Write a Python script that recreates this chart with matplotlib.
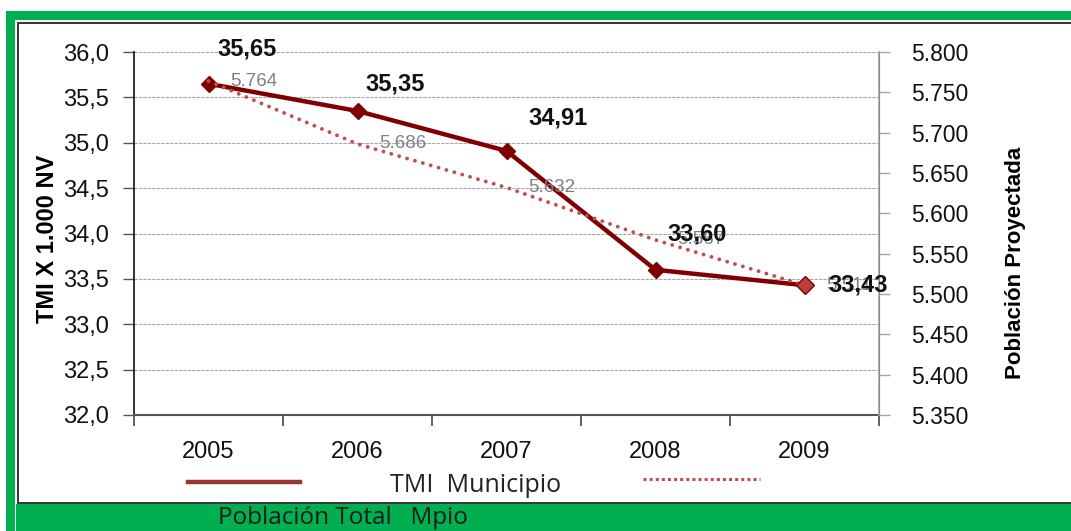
import matplotlib
matplotlib.use("Agg")
import matplotlib.pyplot as plt
from matplotlib.patches import Rectangle
from matplotlib.lines import Line2D

plt.rcParams['font.family'] = ['Liberation Sans', 'DejaVu Sans']

# data
years = ['2005', '2006', '2007', '2008', '2009']
tmi = [35.65, 35.35, 34.91, 33.60, 33.43]
poblacion = [5764, 5686, 5632, 5567, 5511]
tmi_labels = ['35,65', '35,35', '34,91', '33,60', '33,43']
pob_labels = ['5.764', '5.686', '5.632', '5.567', '5.511']

# label offsets in pixels (manual placement like the original)
tmi_offsets = [(39, 35), (38, 27), (52, 33), (42, 36), (54, 0)]

W, H = 1071, 531
fig = plt.figure(figsize=(W / 100, H / 100), dpi=100)


def px(x0, y0, x1, y1):
    # pixel box (from top-left) -> figure fraction rectangle
    return (x0 / W, 1 - y1 / H), (x1 - x0) / W, (y1 - y0) / H


green = '#00B050'
dark = '#3a3a3a'
for box, col in [((6, 11, 1071, 20), green), ((6, 11, 15, 531), green),
                 ((16, 504, 1071, 531), green),
                 ((17, 22, 1071, 24), dark), ((17, 22, 19, 503), dark),
                 ((17, 502, 1071, 504), dark)]:
    xy, w, h = px(*box)
    fig.add_artist(Rectangle(xy, w, h, transform=fig.transFigure,
                             facecolor=col, edgecolor='none'))

ax = fig.add_axes([134 / W, 116 / H, 745 / W, 363 / H])
ax2 = ax.twinx()

x = list(range(len(years)))

ax.plot(x, tmi, color='#800000', lw=3.2, marker='D', markersize=8.5,
        zorder=3)
ax2.plot(x, poblacion, color='#c0504d', lw=2.8, linestyle=(0, (0.01, 2.1)),
         dash_capstyle='round', zorder=2)
ax2.plot(x[-1:], poblacion[-1:], linestyle='none', marker='D', markersize=9,
         color='#b8403c', mec='#800000', zorder=3)

# value labels
for xi, v, lab in zip(x, poblacion, pob_labels):
    ax2.annotate(lab, (xi, v), xytext=(22, 0), textcoords='offset pixels',
                 ha='left', va='center', fontsize=13.5, color='#808080',
                 zorder=1)
for xi, v, lab, off in zip(x, tmi, tmi_labels, tmi_offsets):
    ax2.annotate(lab, (xi, 5350 + (v - 32) / 4 * 450), xytext=off,
                 textcoords='offset pixels', ha='center', va='center',
                 fontsize=17, fontweight='bold', color='#111111', zorder=5)

# axes limits and ticks
ax.set_xlim(-0.5, 4.5)
ax.set_ylim(32, 36)
ax2.set_ylim(5350, 5800)

left_ticks = [32.0, 32.5, 33.0, 33.5, 34.0, 34.5, 35.0, 35.5, 36.0]
right_ticks = [5350, 5400, 5450, 5500, 5550, 5600, 5650, 5700, 5750, 5800]
ax.set_yticks(left_ticks)
ax.set_yticklabels([f"{v:.1f}".replace('.', ',') for v in left_ticks])
ax2.set_yticks(right_ticks)
ax2.set_yticklabels([f"{v:,}".replace(',', '.') for v in right_ticks])
ax.set_xticks(x)
ax.set_xticklabels(years)
ax.set_xticks([i - 0.5 for i in range(len(years) + 1)], minor=True)

ax.tick_params(axis='x', which='major', length=0, pad=19, labelsize=17,
               labelcolor='#111111')
ax.tick_params(axis='x', which='minor', length=8, width=1.3,
               color='#555555', direction='out')
ax.tick_params(axis='y', length=8, width=1, color='#555555', pad=10,
               labelsize=17, labelcolor='#111111')
ax2.tick_params(axis='y', length=8, width=1, color='#a6a6a6', pad=15,
                labelsize=16.5, labelcolor='#111111')

for t in left_ticks[1:]:
    ax.axhline(t, color='#a6a6a6', lw=0.8, linestyle=(0, (3, 1)), zorder=0)

ax.spines['top'].set_visible(False)
ax2.spines['top'].set_visible(False)
ax.spines['left'].set_color('#111111')
ax.spines['left'].set_linewidth(1.2)
ax.spines['bottom'].set_color('#555555')
ax.spines['bottom'].set_linewidth(1.5)
ax2.spines['right'].set_color('#a6a6a6')
ax2.spines['right'].set_linewidth(1.2)
ax2.spines['left'].set_visible(False)
ax2.spines['bottom'].set_visible(False)

ax.set_ylabel('TMI X 1.000 NV', fontsize=17, fontweight='bold')
ax.yaxis.set_label_coords(-0.100, 0.485)
ax2.set_ylabel('Población Proyectada', fontsize=16, fontweight='bold',
               rotation=90)
ax2.yaxis.set_label_coords(1.169, 0.42)

# legend drawn by hand (original wraps the second entry)
fig.add_artist(Line2D([188 / W, 300 / W], [1 - 482 / H, 1 - 482 / H],
                      color='#953735', lw=3.2, transform=fig.transFigure))
fig.text(390 / W, 1 - 486 / H, 'TMI  Municipio', fontsize=18,
         family=['Open Sans', 'DejaVu Sans'],
         color='#222222', va='center', ha='left')
fig.add_artist(Line2D([643 / W, 760 / W], [1 - 479 / H, 1 - 479 / H],
                      color='#c0504d', lw=2.2, linestyle=(0, (1, 1)),
                      transform=fig.transFigure))
fig.text(218 / W, 1 - 518 / H, 'Población Total   Mpio', fontsize=17.5,
         family=['Open Sans', 'DejaVu Sans'],
         color='#1a1a1a', va='center', ha='left')

fig.savefig('out.png', dpi=100)
